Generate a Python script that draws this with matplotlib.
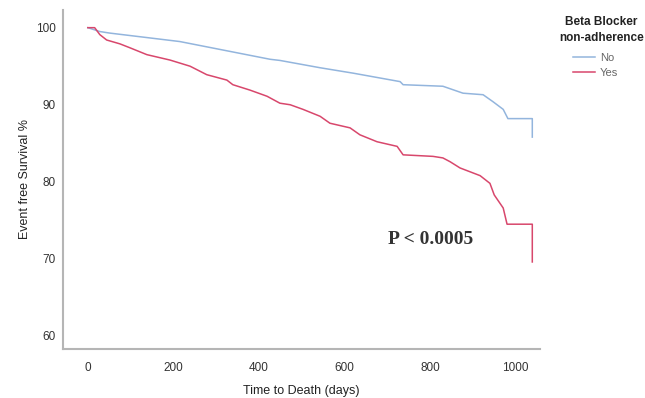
import matplotlib
matplotlib.use("Agg")
import matplotlib.pyplot as plt

# (days, survival %)
no_days = [0, 28, 51, 215, 426, 449, 543, 620, 730, 737, 830, 877, 924, 947, 971, 982, 1039, 1039]
no_surv = [100, 99.5, 99.3, 98.2, 95.9, 95.75, 94.8, 94.1, 93.0, 92.6, 92.4, 91.5, 91.3, 90.4, 89.4, 88.2, 88.2, 85.8]

yes_days = [0, 16, 28, 44, 75, 98, 138, 192, 239, 278, 325, 339, 379, 419, 449, 473, 503, 543,
            566, 613, 636, 676, 723, 737, 807, 830, 847, 870, 917, 940, 950, 971, 980, 1039, 1039]
yes_surv = [100, 100, 99.1, 98.4, 97.9, 97.4, 96.5, 95.8, 95.0, 93.9, 93.2, 92.6, 91.9, 91.1, 90.2, 90.0, 89.4, 88.5,
            87.6, 87.0, 86.1, 85.2, 84.6, 83.5, 83.3, 83.1, 82.6, 81.8, 80.8, 79.8, 78.3, 76.6, 74.5, 74.5, 69.6]

x_ticks = [0, 200, 400, 600, 800, 1000]
y_ticks = [60, 70, 80, 90, 100]

blue = "#93b5dd"
red = "#d8476c"

plt.rcParams['font.family'] = ['Liberation Sans', 'DejaVu Sans']

fig = plt.figure(figsize=(6.45, 3.98), dpi=100)
ax = fig.add_axes([0.0977, 0.123, 0.7395, 0.852])

ax.plot(no_days, no_surv, color=blue, lw=1.1, label="No")
ax.plot(yes_days, yes_surv, color=red, lw=1.1, label="Yes")

ax.set_xlim(-58, 1057)
ax.set_ylim(58.3, 102.3)
ax.set_xticks(x_ticks)
ax.set_yticks(y_ticks)
ax.tick_params(axis='both', length=0, labelsize=8.5, colors="#333333")
ax.tick_params(axis='x', pad=9)
ax.tick_params(axis='y', pad=5)

for s in ['top', 'right']:
    ax.spines[s].set_visible(False)
for s in ['left', 'bottom']:
    ax.spines[s].set_color("#b5b5b5")
    ax.spines[s].set_linewidth(1.5)

ax.set_xlabel("Time to Death (days)", fontsize=9, color="#222222", labelpad=8)
ax.set_ylabel("Event free Survival %", fontsize=9, color="#222222", labelpad=4)

ax.text(702, 72.5, "P < 0.0005", family=['Liberation Serif'], fontsize=14,
        fontweight='bold', color="#333333", ha='left', va='center')

# legend title
fig.text(0.932, 1 - 22 / 398, "Beta Blocker", ha='center', va='center',
         fontsize=8.5, fontweight='bold', color="#222222")
fig.text(0.932, 1 - 38 / 398, "non-adherence", ha='center', va='center',
         fontsize=8.5, fontweight='bold', color="#222222")

leg = fig.legend(loc='upper left', bbox_to_anchor=(573 / 645, 1 - 53 / 398), frameon=False,
                 fontsize=8, handlelength=2.0, borderpad=0, borderaxespad=0,
                 handletextpad=0.4, labelspacing=0.45, labelcolor="#666666")

fig.savefig("out.png", dpi=100)
